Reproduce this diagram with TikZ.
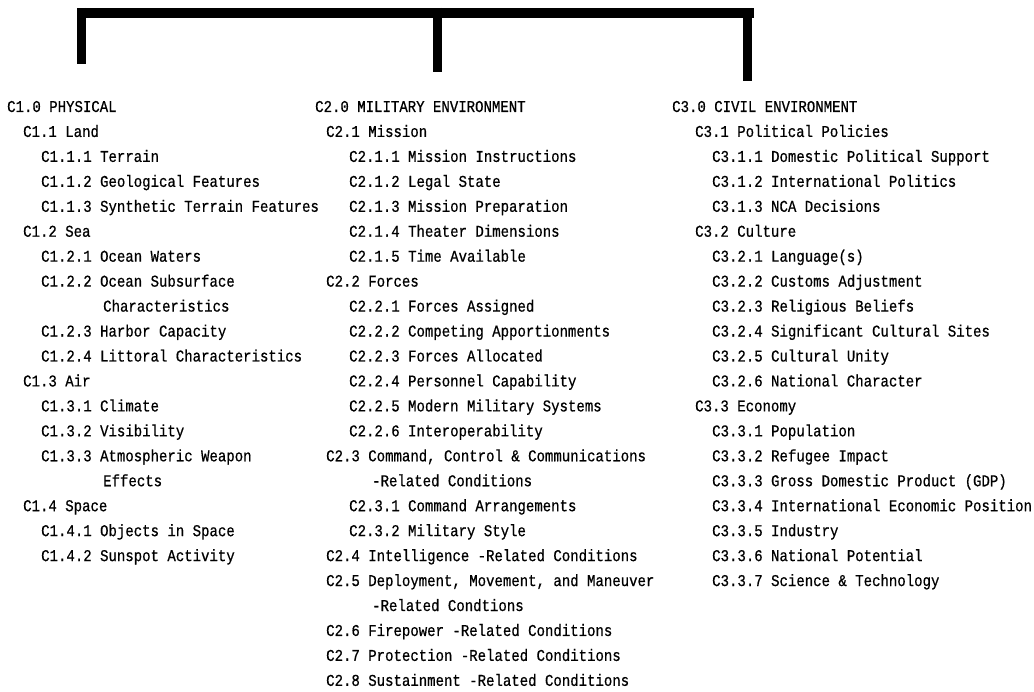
\documentclass[tikz,border=0pt]{standalone}
\usepackage{fontspec}
\newfontfamily\listfont[FakeStretch=0.85, FakeBold=0.6]{Liberation Mono}
\usepackage{tikz}
\usetikzlibrary{positioning}

\begin{document}
\begin{tikzpicture}[
  x=1pt, y=-1pt,
  item/.style={anchor=base west, inner sep=0pt, font=\listfont\fontsize{16.5}{18}\selectfont},
  bar/.style={line width=10pt, line cap=butt},
  leg/.style={line width=9pt, line cap=butt}
]
  \useasboundingbox (0,0) rectangle (1034,692);

  % bracket over the three columns
  \coordinate (barL) at (77,13);
  \coordinate (barR) at (754,13);
  \coordinate (topA) at (81.5,8);  \coordinate (endA) at (81.5,64);
  \coordinate (topB) at (437,8);   \coordinate (endB) at (437,72);
  \coordinate (topC) at (747.5,8); \coordinate (endC) at (747.5,81);
  \draw[bar] (barL) -- (barR);
  \draw[leg] (topA) -- (endA);
  \draw[leg] (topB) -- (endB);
  \draw[leg] (topC) -- (endC);

  % C1 physical
  \foreach \dx/\txt [count=\i from 0] in {
      7/C1.0 PHYSICAL, 23/C1.1 Land, 41/C1.1.1 Terrain,
      41/C1.1.2 Geological Features, 41/C1.1.3 Synthetic Terrain Features,
      23/C1.2 Sea, 41/C1.2.1 Ocean Waters, 41/C1.2.2 Ocean Subsurface,
      103/Characteristics, 41/C1.2.3 Harbor Capacity,
      41/C1.2.4 Littoral Characteristics, 23/C1.3 Air, 41/C1.3.1 Climate,
      41/C1.3.2 Visibility, 41/C1.3.3 Atmospheric Weapon, 103/Effects,
      23/C1.4 Space, 41/C1.4.1 Objects in Space, 41/C1.4.2 Sunspot Activity}
    \node[item] (phys-\i) at (\dx, {112+24.95*\i}) {\txt};

  % C2 military environment
  \foreach \dx/\txt [count=\i from 0] in {
      315/C2.0 MILITARY ENVIRONMENT, 326/C2.1 Mission,
      349/C2.1.1 Mission Instructions, 349/C2.1.2 Legal State,
      349/C2.1.3 Mission Preparation, 349/C2.1.4 Theater Dimensions,
      349/C2.1.5 Time Available, 326/C2.2 Forces,
      349/C2.2.1 Forces Assigned, 349/C2.2.2 Competing Apportionments,
      349/C2.2.3 Forces Allocated, 349/C2.2.4 Personnel Capability,
      349/C2.2.5 Modern Military Systems, 349/C2.2.6 Interoperability,
      326/{C2.3 Command, Control \& Communications}, 372/-Related Conditions,
      349/C2.3.1 Command Arrangements, 349/C2.3.2 Military Style,
      326/C2.4 Intelligence -Related Conditions,
      326/{C2.5 Deployment, Movement, and Maneuver}, 372/-Related Condtions,
      326/C2.6 Firepower -Related Conditions,
      326/C2.7 Protection -Related Conditions,
      326/C2.8 Sustainment -Related Conditions}
    \node[item] (mil-\i) at (\dx, {112+24.95*\i}) {\txt};

  % C3 civil environment
  \foreach \dx/\txt [count=\i from 0] in {
      672/C3.0 CIVIL ENVIRONMENT, 695/C3.1 Political Policies,
      712/C3.1.1 Domestic Political Support, 712/C3.1.2 International Politics,
      712/C3.1.3 NCA Decisions, 695/C3.2 Culture,
      712/C3.2.1 Language(s), 712/C3.2.2 Customs Adjustment,
      712/C3.2.3 Religious Beliefs, 712/C3.2.4 Significant Cultural Sites,
      712/C3.2.5 Cultural Unity, 712/C3.2.6 National Character,
      695/C3.3 Economy, 712/C3.3.1 Population, 712/C3.3.2 Refugee Impact,
      712/C3.3.3 Gross Domestic Product (GDP),
      712/C3.3.4 International Economic Position, 712/C3.3.5 Industry,
      712/C3.3.6 National Potential, 712/C3.3.7 Science \& Technology}
    \node[item] (civ-\i) at (\dx, {112+24.95*\i}) {\txt};
\end{tikzpicture}
\end{document}
